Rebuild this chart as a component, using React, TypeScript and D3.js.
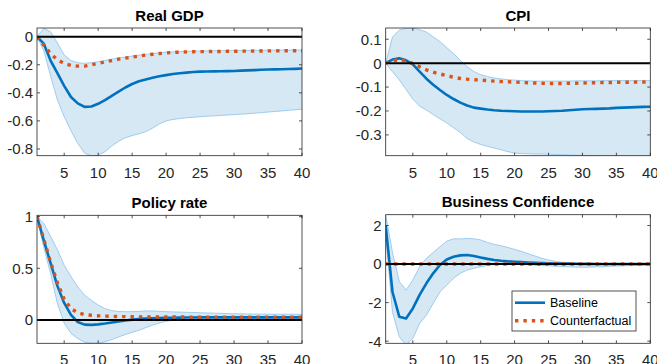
import React from "react";
import * as d3 from "d3";

// horizons 1..40
const horizons = d3.range(1, 41);
const xTicks = [5, 10, 15, 20, 25, 30, 35, 40];

// Real GDP
const gdpBase = [0, -0.05, -0.17, -0.26, -0.35, -0.43, -0.475, -0.5, -0.497, -0.478, -0.452, -0.422, -0.392, -0.362, -0.337, -0.318, -0.305, -0.293, -0.282, -0.274, -0.266, -0.26, -0.256, -0.252, -0.249, -0.248, -0.247, -0.246, -0.245, -0.244, -0.242, -0.24, -0.238, -0.236, -0.234, -0.233, -0.232, -0.23, -0.229, -0.227];
const gdpCf = [0, -0.06, -0.12, -0.165, -0.19, -0.205, -0.21, -0.21, -0.2, -0.19, -0.18, -0.17, -0.16, -0.153, -0.145, -0.138, -0.131, -0.125, -0.12, -0.116, -0.112, -0.11, -0.108, -0.107, -0.106, -0.106, -0.105, -0.105, -0.104, -0.104, -0.103, -0.103, -0.102, -0.102, -0.101, -0.101, -0.1, -0.1, -0.1, -0.1];
const gdpHi = [0, 0.06, 0.035, -0.045, -0.13, -0.17, -0.185, -0.19, -0.185, -0.178, -0.17, -0.16, -0.152, -0.145, -0.138, -0.132, -0.126, -0.12, -0.115, -0.111, -0.108, -0.106, -0.104, -0.103, -0.102, -0.101, -0.1, -0.1, -0.099, -0.099, -0.098, -0.098, -0.097, -0.097, -0.096, -0.096, -0.095, -0.095, -0.095, -0.095];
const gdpLo = [0, -0.1, -0.28, -0.45, -0.57, -0.67, -0.76, -0.83, -0.85, -0.845, -0.82, -0.78, -0.745, -0.72, -0.705, -0.692, -0.677, -0.652, -0.622, -0.6, -0.59, -0.583, -0.578, -0.574, -0.57, -0.567, -0.564, -0.561, -0.558, -0.555, -0.552, -0.549, -0.545, -0.541, -0.537, -0.533, -0.529, -0.525, -0.521, -0.517];

// CPI
const cpiBase = [0, 0.015, 0.02, 0.012, -0.005, -0.035, -0.065, -0.09, -0.112, -0.133, -0.15, -0.165, -0.177, -0.186, -0.19, -0.194, -0.197, -0.199, -0.2, -0.201, -0.202, -0.202, -0.202, -0.202, -0.201, -0.2, -0.199, -0.197, -0.195, -0.193, -0.192, -0.191, -0.19, -0.189, -0.187, -0.186, -0.185, -0.184, -0.183, -0.182];
const cpiCf = [0, 0.01, 0.015, 0.01, -0.002, -0.015, -0.028, -0.038, -0.045, -0.052, -0.059, -0.064, -0.067, -0.069, -0.071, -0.073, -0.075, -0.077, -0.078, -0.079, -0.081, -0.082, -0.083, -0.084, -0.085, -0.085, -0.085, -0.084, -0.084, -0.083, -0.082, -0.082, -0.081, -0.081, -0.08, -0.08, -0.08, -0.079, -0.079, -0.078];
const cpiHi = [0, 0.11, 0.138, 0.146, 0.147, 0.14, 0.13, 0.11, 0.09, 0.065, 0.04, 0.012, -0.015, -0.035, -0.048, -0.056, -0.062, -0.066, -0.069, -0.071, -0.073, -0.074, -0.075, -0.075, -0.075, -0.075, -0.075, -0.075, -0.074, -0.074, -0.074, -0.074, -0.073, -0.073, -0.073, -0.073, -0.073, -0.073, -0.073, -0.073];
const cpiLo = [0, -0.036, -0.07, -0.11, -0.15, -0.18, -0.196, -0.215, -0.233, -0.25, -0.27, -0.29, -0.315, -0.33, -0.34, -0.348, -0.355, -0.362, -0.37, -0.376, -0.378, -0.379, -0.38, -0.38, -0.381, -0.382, -0.383, -0.384, -0.385, -0.386, -0.387, -0.388, -0.389, -0.39, -0.39, -0.39, -0.391, -0.391, -0.392, -0.392];

// Policy rate
const rateBase = [1, 0.77, 0.55, 0.33, 0.165, 0.05, -0.02, -0.045, -0.048, -0.043, -0.035, -0.025, -0.015, -0.005, 0.003, 0.01, 0.014, 0.017, 0.019, 0.021, 0.022, 0.023, 0.024, 0.024, 0.025, 0.025, 0.025, 0.025, 0.025, 0.025, 0.025, 0.025, 0.025, 0.025, 0.025, 0.025, 0.025, 0.025, 0.025, 0.025];
const rateCf = [1, 0.78, 0.56, 0.36, 0.2, 0.11, 0.07, 0.052, 0.045, 0.04, 0.037, 0.035, 0.033, 0.032, 0.031, 0.03, 0.03, 0.029, 0.029, 0.028, 0.028, 0.028, 0.028, 0.027, 0.027, 0.027, 0.027, 0.027, 0.027, 0.027, 0.027, 0.027, 0.027, 0.027, 0.027, 0.027, 0.027, 0.027, 0.027, 0.027];
const rateHi = [1, 0.935, 0.81, 0.68, 0.53, 0.42, 0.32, 0.24, 0.19, 0.145, 0.11, 0.09, 0.082, 0.08, 0.08, 0.083, 0.087, 0.087, 0.084, 0.08, 0.078, 0.076, 0.074, 0.072, 0.07, 0.068, 0.066, 0.064, 0.062, 0.06, 0.059, 0.058, 0.057, 0.056, 0.056, 0.055, 0.055, 0.055, 0.055, 0.055];
const rateLo = [1, 0.7, 0.45, 0.16, -0.03, -0.13, -0.18, -0.215, -0.226, -0.225, -0.21, -0.19, -0.165, -0.14, -0.12, -0.1, -0.075, -0.05, -0.03, -0.012, -0.004, 0, 0.003, 0.005, 0.006, 0.007, 0.008, 0.008, 0.009, 0.009, 0.01, 0.01, 0.01, 0.01, 0.01, 0.01, 0.01, 0.01, 0.01, 0.01];

// Business Confidence
const bcBase = [2.0, -1.45, -2.73, -2.82, -2.3, -1.6, -1.0, -0.48, -0.05, 0.24, 0.38, 0.45, 0.47, 0.42, 0.34, 0.27, 0.21, 0.17, 0.14, 0.12, 0.1, 0.08, 0.065, 0.05, 0.04, 0.03, 0.025, 0.02, 0.015, 0.01, 0.008, 0.006, 0.004, 0.003, 0.002, 0.001, 0, 0, 0, 0];
const bcCf = [0, 0, 0, 0, 0, 0, 0, 0, 0, 0, 0, 0, 0, 0, 0, 0, 0, 0, 0, 0, 0, 0, 0, 0, 0, 0, 0, 0, 0, 0, 0, 0, 0, 0, 0, 0, 0, 0, 0, 0];
const bcHi = [2.56, 0.6, -0.9, -1.35, -0.83, -0.14, 0.3, 0.6, 0.9, 1.19, 1.31, 1.3, 1.33, 1.31, 1.25, 1.12, 1.02, 0.95, 0.86, 0.76, 0.66, 0.54, 0.42, 0.3, 0.21, 0.14, 0.09, 0.06, 0.04, 0.03, 0.03, 0.03, 0.03, 0.03, 0.03, 0.03, 0.03, 0.03, 0.03, 0.03];
const bcLo = [1.5, -2.5, -3.77, -4.2, -3.86, -3.08, -2.65, -2.04, -1.44, -1.09, -0.74, -0.48, -0.31, -0.22, -0.14, -0.07, -0.03, -0.02, -0.02, -0.02, -0.03, -0.04, -0.06, -0.08, -0.09, -0.11, -0.13, -0.14, -0.16, -0.17, -0.16, -0.15, -0.14, -0.12, -0.1, -0.09, -0.08, -0.07, -0.06, -0.05];

const seriesNames = ["Baseline", "Counterfactual"];

const BLUE = "#0072bd";
const ORANGE = "#d95319";
const BAND = "#d7e8f5";
const BAND_EDGE = "#8cc2ea";
const AXIS = "#262626";
const FONT = "'Liberation Sans', Arial, Helvetica, sans-serif";

type PanelProps = {
  id: string;
  title: string;
  left: number;
  right: number;
  top: number;
  bottom: number;
  yDomain: [number, number];
  yTicks: number[];
  base: number[];
  cf: number[];
  hi: number[];
  lo: number[];
  legend?: boolean;
};

function Panel(p: PanelProps) {
  const x = d3.scaleLinear().domain([1, 40]).range([p.left, p.right]);
  const y = d3.scaleLinear().domain(p.yDomain).range([p.bottom, p.top]);
  const line = d3
    .line<number>()
    .x((d, i) => x(horizons[i]))
    .y((d) => y(d));
  const area = d3
    .area<number>()
    .x((d, i) => x(horizons[i]))
    .y0((d, i) => y(p.lo[i]))
    .y1((d) => y(d));
  const tick = 3;
  const fmt = (v: number) => (v < 0 ? "-" + Math.abs(v) : String(v));

  return (
    <g>
      <defs>
        <clipPath id={"clip-" + p.id}>
          <rect x={p.left} y={p.top} width={p.right - p.left} height={p.bottom - p.top} />
        </clipPath>
      </defs>
      <g clipPath={`url(#clip-${p.id})`}>
        <path d={area(p.hi) || ""} fill={BAND} stroke="none" />
        <path d={line(p.hi) || ""} fill="none" stroke={BAND_EDGE} strokeWidth={0.8} />
        <path d={line(p.lo) || ""} fill="none" stroke={BAND_EDGE} strokeWidth={0.8} />
        <path d={line(p.base) || ""} fill="none" stroke={BLUE} strokeWidth={2.6} strokeLinejoin="round" />
        <path d={line(p.cf) || ""} fill="none" stroke={ORANGE} strokeWidth={3.4} strokeDasharray="3.4 5" />
        <line x1={p.left} x2={p.right} y1={y(0)} y2={y(0)} stroke="#000" strokeWidth={2} />
      </g>
      {/* box */}
      <rect x={p.left} y={p.top} width={p.right - p.left} height={p.bottom - p.top} fill="none" stroke={AXIS} strokeWidth={0.8} />
      {xTicks.map((t) => (
        <g key={"x" + t}>
          <line x1={x(t)} x2={x(t)} y1={p.bottom} y2={p.bottom - tick} stroke={AXIS} strokeWidth={0.8} />
          <line x1={x(t)} x2={x(t)} y1={p.top} y2={p.top + tick} stroke={AXIS} strokeWidth={0.8} />
          <text x={x(t)} y={p.bottom + 22} textAnchor="middle" fontSize={15} fill={AXIS} fontFamily={FONT}>
            {t}
          </text>
        </g>
      ))}
      {p.yTicks.map((t) => (
        <g key={"y" + t}>
          <line x1={p.left} x2={p.left + tick} y1={y(t)} y2={y(t)} stroke={AXIS} strokeWidth={0.8} />
          <line x1={p.right} x2={p.right - tick} y1={y(t)} y2={y(t)} stroke={AXIS} strokeWidth={0.8} />
          <text x={p.left - 4} y={y(t) + 5.4} textAnchor="end" fontSize={15} fill={AXIS} fontFamily={FONT}>
            {fmt(t)}
          </text>
        </g>
      ))}
      <text x={(p.left + p.right) / 2} y={p.top - 7.5} textAnchor="middle" fontSize={15} fontWeight="bold" fill="#000" fontFamily={FONT}>
        {p.title}
      </text>
      {p.legend && (
        <g>
          <rect x={512} y={291} width={124} height={40} fill="#fff" stroke={AXIS} strokeWidth={0.8} />
          <line x1={515} x2={545} y1={302.7} y2={302.7} stroke={BLUE} strokeWidth={2.6} />
          <text x={550} y={307} fontSize={12.5} fill="#000" fontFamily={FONT}>
            {seriesNames[0]}
          </text>
          <line x1={515} x2={545} y1={320.7} y2={320.7} stroke={ORANGE} strokeWidth={3.4} strokeDasharray="3.4 5" />
          <text x={550} y={325} fontSize={12.5} fill="#000" fontFamily={FONT}>
            {seriesNames[1]}
          </text>
        </g>
      )}
    </g>
  );
}

export default function App() {
  return (
    <svg
      width={657}
      height={364}
      style={{ position: "absolute", left: 0, top: 0, background: "#fff" }}
    >
      <Panel id="gdp" title="Real GDP" left={37} right={302} top={28} bottom={155.7}
        yDomain={[-0.848, 0.062]} yTicks={[0, -0.2, -0.4, -0.6, -0.8]}
        base={gdpBase} cf={gdpCf} hi={gdpHi} lo={gdpLo} />
      <Panel id="cpi" title="CPI" left={385.7} right={650.3} top={28} bottom={155.7}
        yDomain={[-0.387, 0.147]} yTicks={[0.1, 0, -0.1, -0.2, -0.3]}
        base={cpiBase} cf={cpiCf} hi={cpiHi} lo={cpiLo} />
      <Panel id="rate" title="Policy rate" left={37} right={302} top={215.3} bottom={343.3}
        yDomain={[-0.226, 1.013]} yTicks={[0, 0.5, 1]}
        base={rateBase} cf={rateCf} hi={rateHi} lo={rateLo} />
      <Panel id="bc" title="Business Confidence" left={385.7} right={650.3} top={214.7} bottom={343.3}
        yDomain={[-4.11, 2.56]} yTicks={[2, 0, -2, -4]}
        base={bcBase} cf={bcCf} hi={bcHi} lo={bcLo} legend />
    </svg>
  );
}
